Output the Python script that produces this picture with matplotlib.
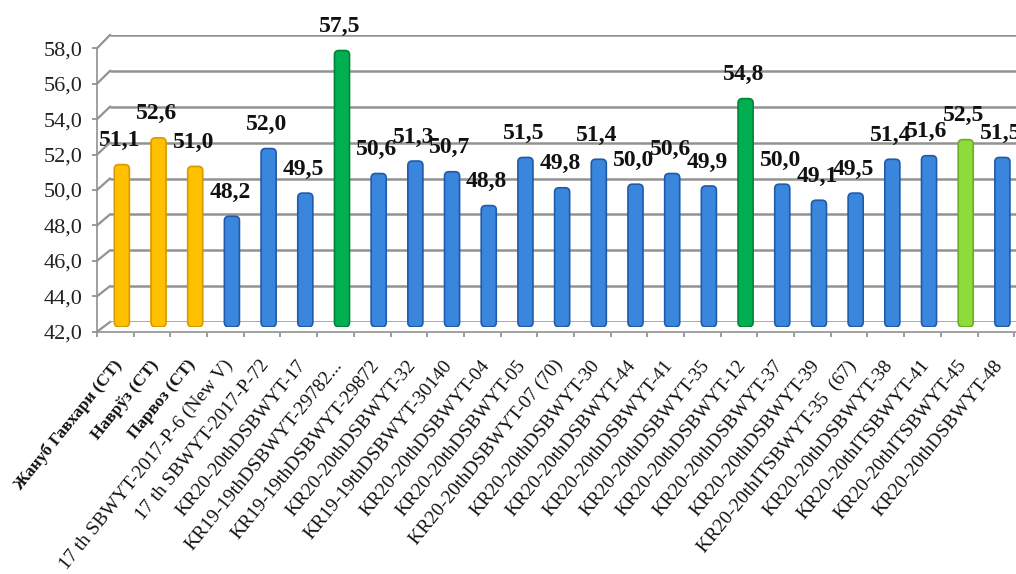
import matplotlib
matplotlib.use("Agg")
import matplotlib.pyplot as plt
from matplotlib.patches import FancyBboxPatch
from matplotlib.lines import Line2D
from matplotlib.ticker import FixedLocator, FuncFormatter, NullFormatter
from matplotlib.transforms import ScaledTranslation, IdentityTransform

# ---- data -------------------------------------------------------------
categories = [
    "Жануб Гавхари (СТ)", "Наврўз (СТ)", "Парвоз (СТ)",
    "17 th SBWYT-2017-P-6 (New V)", "17 th SBWYT-2017-P-72",
    "KR20-20thDSBWYT-17", "KR19-19thDSBWYT-29782...",
    "KR19-19thDSBWYT-29872", "KR20-20thDSBWYT-32",
    "KR19-19thDSBWYT-30140", "KR20-20thDSBWYT-04",
    "KR20-20thDSBWYT-05", "KR20-20thDSBWYT-07 (70)",
    "KR20-20thDSBWYT-30", "KR20-20thDSBWYT-44",
    "KR20-20thDSBWYT-41", "KR20-20thDSBWYT-35",
    "KR20-20thDSBWYT-12", "KR20-20thDSBWYT-37",
    "KR20-20thDSBWYT-39", "KR20-20thITSBWYT-35  (67)",
    "KR20-20thDSBWYT-38", "KR20-20thITSBWYT-41",
    "KR20-20thITSBWYT-45", "KR20-20thDSBWYT-48",
]
values = [51.1, 52.6, 51.0, 48.2, 52.0, 49.5, 57.5, 50.6, 51.3, 50.7,
          48.8, 51.5, 49.8, 51.4, 50.0, 50.6, 49.9, 54.8, 50.0, 49.1,
          49.5, 51.4, 51.6, 52.5, 51.5]
groups = ["check"] * 3 + ["line"] * 3 + ["top"] + ["line"] * 10 + ["top"] \
         + ["line"] * 5 + ["high"] + ["line"]
y_ticks = [42, 44, 46, 48, 50, 52, 54, 56, 58]

# ---- styling ----------------------------------------------------------
face = {"check": "#FFC000", "line": "#3A86DD", "top": "#00B050", "high": "#8EDC3A"}
edge = {"check": "#D99A00", "line": "#1E5BAA", "top": "#00843A", "high": "#6AAE22"}
serif = ["Liberation Serif", "DejaVu Serif"]
grid_col = "#929292"

W, H = 1016, 574
STEP = 36.69  # pixels per category


def rect(left, y_bottom, y_top, right=W):
    return [left / W, 1 - y_bottom / H, (right - left) / W, (y_bottom - y_top) / H]


fig = plt.figure(figsize=(W / 100, H / 100), dpi=100)
fig.patch.set_facecolor("white")

# back wall (gridlines), middle plane (bars), front plane (axes)
ax_back = fig.add_axes(rect(110, 322.0, 35.0))
ax_mid = fig.add_axes(rect(103.5, 326.8, 41.6))
ax_front = fig.add_axes(rect(97, 331.7, 48.3))

for a, left in ((ax_back, 110), (ax_mid, 103.5), (ax_front, 97)):
    a.set_xlim(-0.5, -0.5 + (W - left) / STEP)
    a.set_ylim(42, 58)
    a.patch.set_alpha(0)

ax_back.axis("off")
ax_mid.axis("off")

# back-wall gridlines
x0b, x1b = ax_back.get_xlim()
ax_back.hlines(y_ticks, x0b, x1b, colors=grid_col, lw=1.8)

# side-wall connectors from the front axis to the back wall
for v in y_ticks:
    p1 = ax_front.transData.transform((-0.5, v))
    p2 = ax_back.transData.transform((x0b, v))
    fig.add_artist(Line2D([p1[0], p2[0]], [p1[1], p2[1]], color=grid_col,
                          lw=1.6, transform=IdentityTransform()))

# bars with rounded ends
x = list(range(len(values)))
bars = ax_mid.bar(x, [v - 42 for v in values], bottom=42, width=0.41)
aspect = STEP / ((326.8 - 41.6) / 16)
for rct, g in zip(bars.patches, groups):
    rct.set_visible(False)
    fb = FancyBboxPatch((rct.get_x(), rct.get_y()), rct.get_width(), rct.get_height(),
                        boxstyle="round,pad=0,rounding_size=0.12",
                        mutation_aspect=aspect, facecolor=face[g],
                        edgecolor=edge[g], lw=1.2, zorder=3)
    ax_mid.add_patch(fb)

# value labels
for i, v in enumerate(values):
    ax_mid.annotate(f"{v:.1f}".replace(".", ","), xy=(i, v), xytext=(-2, 24),
                    textcoords="offset pixels", ha="center", va="center",
                    fontsize=17, fontweight="bold", family=serif,
                    color="#111111", zorder=5, annotation_clip=False)

# front axes: spines and ticks
for s in ("top", "right"):
    ax_front.spines[s].set_visible(False)
for s in ("left", "bottom"):
    ax_front.spines[s].set_color("#a0a0a0")
    ax_front.spines[s].set_linewidth(1.4)

ax_front.yaxis.set_major_locator(FixedLocator(y_ticks))
ax_front.yaxis.set_major_formatter(FuncFormatter(lambda v, p: f"{v:.1f}".replace(".", ",")))
ax_front.tick_params(axis="y", length=3.5, width=1.2, color="#8a8a8a", pad=7,
                     labelsize=16, labelcolor="#222222")
for t in ax_front.get_yticklabels():
    t.set_family(serif)

ax_front.xaxis.set_major_locator(FixedLocator(x))
ax_front.xaxis.set_minor_locator(FixedLocator([i - 0.5 for i in range(len(values) + 1)]))
ax_front.xaxis.set_minor_formatter(NullFormatter())
ax_front.set_xticklabels(categories)
ax_front.tick_params(axis="x", which="major", length=0, pad=22)
ax_front.tick_params(axis="x", which="minor", length=3.5, width=1.2, color="#8a8a8a")
shift = ScaledTranslation(4 / 100, 0, fig.dpi_scale_trans)
for t, g in zip(ax_front.get_xticklabels(), groups):
    t.set_rotation(51)
    t.set_rotation_mode("anchor")
    t.set_ha("right")
    t.set_va("center")
    t.set_family(serif)
    t.set_color("#111111")
    if g == "check":
        t.set_fontsize(12.5)
        t.set_fontweight("bold")
    else:
        t.set_fontsize(14)
    t.set_transform(t.get_transform() + shift)

fig.savefig("out.png", dpi=100, facecolor="white")
